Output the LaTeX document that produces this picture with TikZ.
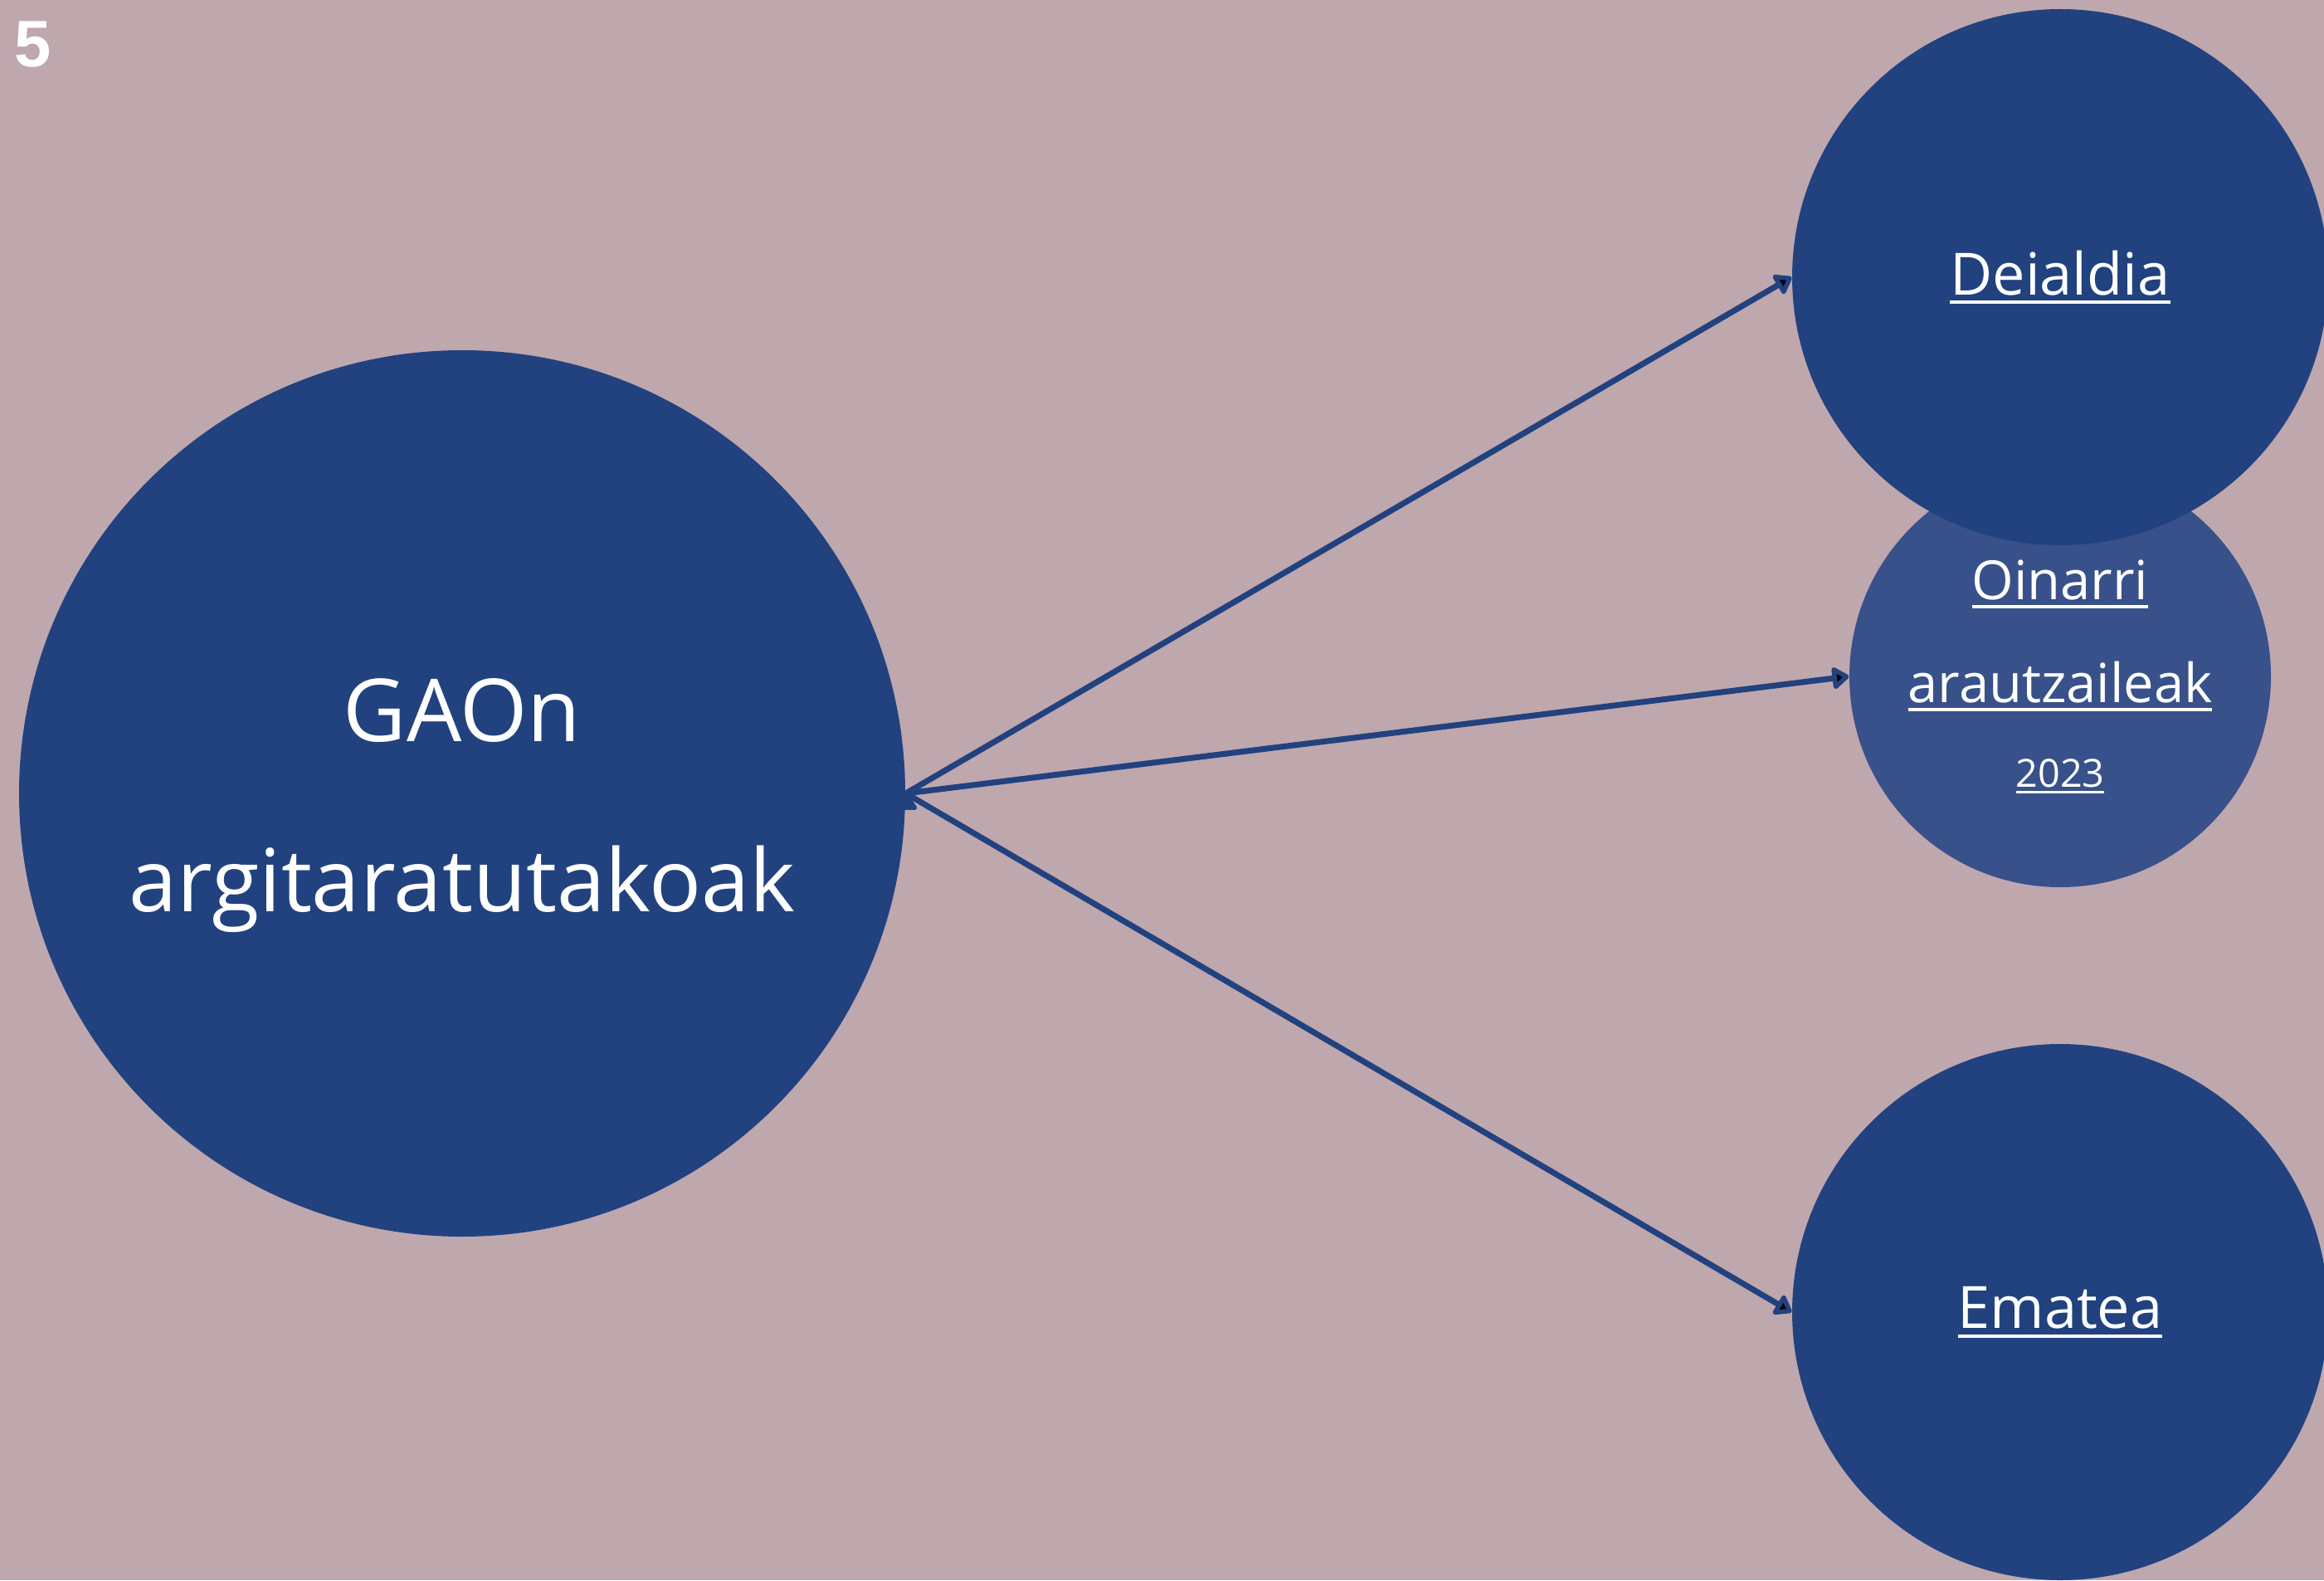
\documentclass[tikz,border=0pt]{standalone}
\usepackage{fontspec}
\setmainfont{Open Sans}
\newfontfamily\pagefont{Liberation Sans}
\usetikzlibrary{arrows.meta}

\definecolor{gaoblue}{RGB}{33,66,127}
\definecolor{softblue}{RGB}{56,81,138}
\definecolor{mauve}{RGB}{191,167,174}

% underlined link text
\newcommand{\lnk}[1]{\leavevmode\setbox0\hbox{#1}\rlap{\rule[-0.16em]{\wd0}{0.06em}}\box0}

\tikzset{
  bubble/.style={circle,fill=gaoblue,text=white,inner sep=0pt,align=center},
  link/.style={->,draw=gaoblue,line width=2pt,line cap=round}
}

\begin{document}
\begin{tikzpicture}[>={Triangle[length=0.22cm,width=0.3cm,round]}]
  \clip (0,0) rectangle (28.01,19.04);
  \fill[mauve] (0,0) rectangle (28.01,19.04);

  \node[text=white,font=\pagefont\bfseries\fontsize{22.6}{24}\selectfont] (page) at (0.40,18.50) {5};

  \node[bubble,minimum size=10.68cm,font=\fontsize{29.8}{58.5}\selectfont] (gao) at (5.57,9.48) {\rule{0pt}{30pt}GAOn\\argitaratutakoak};
  \node[bubble,fill=softblue,minimum size=5.08cm,font=\fontsize{18.5}{35.4}\selectfont] (oinarri) at (24.83,10.89)
    {\lnk{Oinarri}\\\lnk{arautzaileak}\\[-6.5pt]{\fontsize{13.3}{16}\selectfont\lnk{2023}}};
  \node[bubble,minimum size=6.46cm,font=\fontsize{20}{24}\selectfont] (deialdia) at (24.83,15.70) {\lnk{Deialdia}};
  \node[bubble,minimum size=6.46cm,font=\fontsize{20}{24}\selectfont] (ematea) at (24.83,3.23) {\lnk{Ematea}};

  \path[link] (gao.east) edge (deialdia.west);
  \path[link] (gao.east) edge (oinarri.west);
  \path[link] (gao.east) edge (ematea.west);

\end{tikzpicture}
\end{document}
